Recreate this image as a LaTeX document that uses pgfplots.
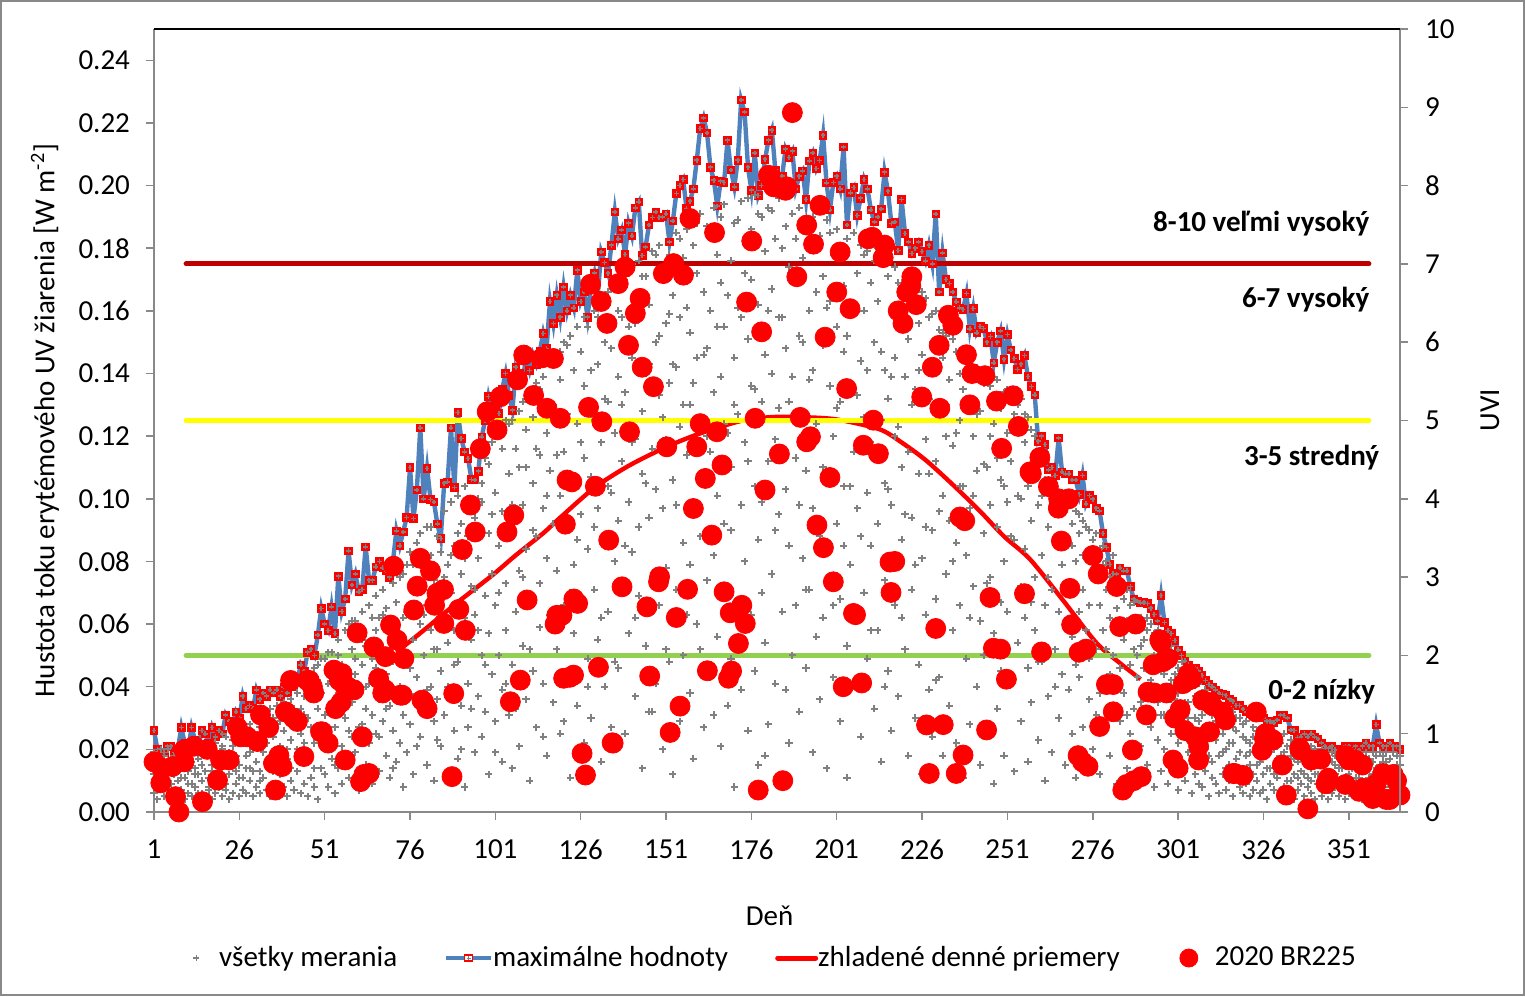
\documentclass[border=0pt]{standalone}
\usepackage{pgfplots}
\usepackage{pgfplotstable}
\pgfplotsset{compat=1.18}
\usepackage{fontspec}
\setmainfont{Carlito}
\definecolor{maxblue}{HTML}{4F81BD}
\definecolor{uvdark}{HTML}{C00000}
\definecolor{uvyellow}{HTML}{FFFF00}
\definecolor{uvgreen}{HTML}{92D050}
\definecolor{framegray}{HTML}{898989}
\definecolor{ptgray}{HTML}{808080}
\newcommand\fs{\fontsize{14.5}{17}\selectfont}
% d = day, g1..g4 = all measurements (four per day), m = daily maximum
\pgfplotstableread{
d g1 g2 g3 g4 m
1 .006 .012 .019 .013 .026
2 .004 .010 .016 .007 .020
3 .008 .014 .017 .020 .017
4 .005 .011 .018 .015 .019
5 .007 .013 .020 .010 .021
6 .004 .009 .015 .017 .021
7 .006 .012 .018 .003 .019
8 .005 .010 .016 .014 .020
9 .007 .015 .021 .011 .027
10 .004 .011 .019 .018 .022
11 .006 .013 .017 .009 .020
12 .005 .009 .020 .016 .027
13 .008 .014 .019 .012 .023
14 .004 .012 .017 .006 .021
15 .006 .010 .021 .015 .026
16 .005 .013 .018 .019 .025
17 .007 .011 .020 .008 .022
18 .004 .015 .019 .013 .027
19 .006 .012 .022 .017 .024
20 .008 .010 .017 .011 .026
21 .005 .014 .021 .020 .025
22 .007 .016 .024 .009 .031
23 .004 .012 .019 .015 .029
24 .006 .017 .023 .021 .028
25 .009 .013 .026 .018 .032
26 .005 .015 .022 .011 .030
27 .007 .011 .027 .022 .037
28 .006 .018 .024 .014 .033
29 .010 .014 .028 .019 .034
30 .005 .020 .025 .013 .033
31 .008 .016 .030 .024 .039
32 .006 .013 .027 .010 .036
33 .011 .019 .031 .021 .038
34 .007 .022 .028 .016 .037
35 .005 .015 .033 .026 .039
36 .009 .024 .030 .013 .038
37 .006 .018 .034 .028 .039
38 .012 .021 .029 .017 .037
39 .008 .026 .035 .031 .040
40 .005 .017 .031 .020 .038
41 .010 .023 .036 .014 .0405
42 .007 .028 .033 .029 .040
43 .013 .020 .038 .017 .042
44 .006 .025 .041 .033 .047
45 .009 .031 .037 .022 .045
46 .005 .018 .044 .030 .051
47 .011 .027 .040 .036 .052
48 .008 .022 .046 .014 .050
49 .004 .033 .042 .047 .0565
50 .014 .026 .049 .038 .065
51 .012 .031 .049 .022 .060
52 .022 .041 .008 .051 .058
53 .051 .017 .035 .043 .0655
54 .006 .044 .027 .015 .057
55 .038 .055 .014 .050 .0753
56 .021 .047 .009 .034 .064
57 .058 .030 .016 .045 .068
58 .011 .042 .060 .026 .0834
59 .035 .024 .052 .061 .0725
60 .019 .061 .044 .049 .076
61 .007 .038 .056 .027 .0703
62 .028 .064 .047 .055 .071
63 .015 .053 .033 .040 .0847
64 .041 .066 .022 .009 .074
65 .009 .049 .031 .062 .074
66 .058 .025 .069 .046 .0783
67 .036 .013 .062 .024 .080
68 .052 .029 .071 .063 .078
69 .018 .044 .065 .033 .077
70 .060 .034 .011 .049 .075
71 .026 .073 .048 .014 .080
72 .039 .016 .067 .058 .0898
73 .075 .054 .022 .040 .085
74 .031 .062 .008 .076 .0894
75 .047 .079 .019 .064 .094
76 .066 .028 .083 .046 .110
77 .012 .055 .037 .079 .0937
78 .071 .043 .086 .021 .1028
79 .024 .060 .089 .074 .1227
80 .050 .035 .078 .063 .100
81 .015 .091 .066 .039 .1097
82 .058 .040 .082 .091 .0998
83 .029 .074 .010 .052 .099
84 .088 .052 .036 .023 .092
85 .045 .069 .021 .083 .0873
86 .096 .031 .061 .075 .105
87 .013 .079 .054 .040 .1054
88 .070 .039 .099 .082 .1227
89 .026 .085 .058 .047 .1036
90 .048 .101 .017 .089 .1275
91 .076 .034 .092 .020 .1193
92 .062 .008 .104 .081 .115
93 .041 .088 .027 .100 .1129
94 .097 .055 .072 .033 .1061
95 .019 .094 .063 .071 .106
96 .081 .037 .100 .058 .1088
97 .050 .099 .024 .105 .1198
98 .113 .069 .032 .047 .125
99 .089 .012 .057 .111 .1326
100 .044 .118 .076 .095 .128
101 .102 .029 .066 .019 .130
102 .085 .050 .121 .070 .1272
103 .016 .096 .039 .116 .135
104 .073 .125 .058 .041 .140
105 .108 .031 .088 .124 .133
106 .047 .125 .014 .098 .1283
107 .093 .064 .116 .033 .142
108 .021 .110 .077 .128 .140
109 .131 .053 .098 .075 .138
110 .036 .084 .122 .110 .145
111 .069 .133 .010 .052 .141
112 .105 .045 .126 .090 .146
113 .088 .027 .137 .116 .143
114 .059 .114 .073 .135 .147
115 .139 .041 .097 .024 .1528
116 .018 .121 .081 .101 .148
117 .109 .063 .144 .130 .163
118 .035 .130 .092 .061 .156
119 .146 .077 .052 .114 .165
120 .101 .025 .138 .147 .158
121 .066 .150 .115 .029 .1676
122 .043 .127 .090 .149 .160
123 .152 .011 .108 .070 .165
124 .079 .141 .057 .104 .161
125 .124 .034 .155 .087 .173
126 .095 .068 .147 .118 .163
127 .022 .136 .113 .158 .166
128 .155 .084 .049 .040 .158
129 .107 .141 .030 .127 .168
130 .071 .160 .125 .091 .172
131 .143 .055 .097 .158 .165
132 .016 .118 .163 .062 .1788
133 .088 .150 .040 .132 .1755
134 .131 .064 .166 .104 .172
135 .102 .027 .148 .167 .181
136 .167 .080 .121 .048 .1916
137 .046 .139 .093 .160 .183
138 .158 .112 .070 .130 .1858
139 .025 .171 .134 .085 .178
140 .099 .057 .155 .172 .188
141 .145 .175 .083 .118 .184
142 .062 .119 .037 .156 .1929
143 .176 .091 .160 .069 .1948
144 .128 .014 .108 .171 .1777
145 .053 .171 .140 .105 .1804
146 .094 .032 .162 .143 .1874
147 .179 .116 .075 .032 .1898
148 .041 .150 .103 .178 .1916
149 .133 .181 .066 .152 .1898
150 .020 .097 .172 .126 .190
151 .156 .078 .119 .052 .191
152 .178 .048 .137 .159 .182
153 .106 .165 .012 .143 .1887
154 .071 .142 .185 .098 .1975
155 .029 .123 .158 .183 .200
156 .177 .086 .050 .130 .2019
157 .114 .186 .063 .161 .1927
158 .038 .153 .130 .079 .195
159 .181 .099 .017 .137 .199
160 .145 .060 .172 .188 .2081
161 .088 .191 .124 .052 .2182
162 .027 .166 .107 .146 .2216
163 .148 .074 .187 .120 .2168
164 .115 .043 .160 .184 .2059
165 .193 .134 .082 .031 .2017
166 .056 .178 .101 .155 .1935
167 .139 .021 .169 .190 .2014
168 .092 .155 .194 .124 .201
169 .034 .121 .072 .165 .2145
170 .176 .110 .049 .090 .205
171 .145 .188 .008 .130 .1996
172 .067 .161 .127 .189 .2081
173 .195 .098 .039 .158 .2273
174 .118 .172 .080 .053 .2235
175 .026 .151 .196 .112 .2059
176 .186 .063 .136 .170 .1985
177 .104 .197 .045 .135 .2104
178 .162 .087 .015 .191 .1969
179 .131 .190 .070 .099 .200
180 .054 .146 .179 .018 .2084
181 .193 .112 .028 .160 .2145
182 .167 .076 .140 .192 .2177
183 .041 .183 .119 .090 .205
184 .129 .095 .196 .158 .200
185 .064 .158 .011 .180 .203
186 .187 .103 .148 .039 .2116
187 .022 .174 .085 .131 .209
188 .139 .050 .191 .171 .211
189 .113 .170 .066 .183 .199
190 .193 .032 .152 .098 .203
191 .081 .125 .177 .150 .2047
192 .046 .186 .109 .071 .1955
193 .160 .071 .138 .188 .2079
194 .019 .190 .097 .141 .2104
195 .124 .166 .056 .090 .2054
196 .184 .088 .036 .153 .208
197 .149 .062 .171 .110 .2161
198 .107 .189 .014 .161 .2009
199 .075 .136 .163 .185 .1923
200 .178 .043 .120 .066 .201
201 .092 .155 .186 .129 .203
202 .029 .131 .068 .178 .199
203 .168 .104 .147 .085 .2123
204 .053 .183 .011 .152 .1874
205 .136 .079 .159 .104 .1977
206 .185 .115 .040 .162 .1994
207 .097 .172 .061 .133 .1905
208 .144 .024 .181 .088 .196
209 .070 .126 .160 .178 .202
210 .179 .049 .102 .141 .199
211 .118 .169 .085 .058 .1923
212 .033 .150 .176 .113 .1884
213 .163 .092 .058 .180 .190
214 .125 .178 .016 .147 .1925
215 .074 .141 .105 .040 .2043
216 .171 .045 .132 .103 .1982
217 .098 .160 .026 .139 .1879
218 .145 .066 .174 .120 .1884
219 .037 .123 .157 .169 .1793
220 .168 .087 .110 .062 .1955
221 .052 .139 .170 .095 .1847
222 .115 .018 .151 .165 .182
223 .162 .094 .071 .130 .1783
224 .030 .135 .168 .079 .180
225 .108 .156 .047 .141 .182
226 .146 .081 .012 .166 .179
227 .063 .164 .119 .091 .176
228 .132 .039 .158 .108 .181
229 .090 .150 .024 .159 .175
230 .160 .112 .068 .042 .1909
231 .043 .127 .154 .096 .166
232 .101 .018 .145 .153 .1785
233 .152 .076 .120 .130 .170
234 .034 .138 .093 .156 .1687
235 .117 .058 .151 .080 .166
236 .147 .086 .022 .121 .1629
237 .066 .125 .140 .104 .161
238 .011 .104 .148 .135 .1605
239 .131 .049 .082 .145 .1655
240 .143 .097 .028 .062 .1543
241 .072 .120 .139 .101 .1607
242 .040 .142 .109 .127 .153
243 .128 .061 .015 .141 .155
244 .089 .137 .050 .111 .1544
245 .110 .026 .141 .073 .150
246 .136 .075 .098 .120 .1518
247 .057 .124 .009 .139 .1434
248 .138 .091 .033 .113 .150
249 .106 .045 .129 .067 .1536
250 .018 .134 .080 .104 .1446
251 .121 .064 .099 .135 .1524
252 .041 .135 .112 .088 .1475
253 .087 .013 .127 .132 .1448
254 .130 .070 .054 .101 .1413
255 .100 .029 .132 .072 .143
256 .062 .118 .084 .127 .1457
257 .126 .046 .016 .104 .1391
258 .093 .122 .035 .067 .1358
259 .058 .111 .075 .120 .1332
260 .113 .023 .098 .048 .1184
261 .082 .048 .113 .101 .120
262 .010 .106 .066 .115 .1173
263 .091 .037 .104 .075 .1092
264 .071 .103 .019 .106 .110
265 .052 .100 .086 .040 .1074
266 .030 .095 .064 .102 .1194
267 .101 .044 .079 .088 .1086
268 .015 .087 .060 .097 .108
269 .098 .039 .072 .060 .108
270 .056 .092 .025 .085 .106
271 .080 .011 .096 .047 .106
272 .043 .089 .064 .095 .1014
273 .093 .027 .071 .082 .1074
274 .058 .082 .016 .091 .0984
275 .036 .090 .049 .066 .101
276 .075 .020 .087 .054 .0999
277 .052 .089 .031 .078 .097
278 .084 .012 .066 .038 .0961
279 .041 .079 .058 .085 .0889
280 .071 .027 .080 .052 .0845
281 .018 .062 .075 .044 .079
282 .050 .072 .034 .082 .0761
283 .065 .009 .072 .040 .076
284 .029 .070 .046 .058 .078
285 .068 .038 .055 .072 .077
286 .014 .061 .071 .031 .077
287 .047 .066 .025 .059 .072
288 .033 .062 .052 .067 .068
289 .060 .011 .043 .050 .0674
290 .021 .053 .062 .035 .0668
291 .046 .030 .061 .055 .067
292 .058 .015 .038 .062 .0666
293 .027 .049 .060 .042 .0651
294 .040 .057 .008 .050 .063
295 .052 .023 .035 .058 .061
296 .013 .045 .056 .031 .0691
297 .031 .054 .020 .044 .0605
298 .048 .009 .039 .052 .058
299 .025 .042 .053 .036 .057
300 .036 .016 .049 .044 .0547
301 .007 .022 .046 .038 .0518
302 .014 .041 .028 .048 .050
303 .010 .035 .045 .024 .0483
304 .019 .030 .042 .035 .047
305 .006 .026 .040 .043 .046
306 .012 .037 .021 .030 .0459
307 .017 .029 .041 .009 .045
308 .008 .024 .038 .031 .0436
309 .013 .033 .020 .039 .042
310 .005 .027 .036 .018 .0407
311 .016 .031 .011 .025 .040
312 .009 .023 .035 .029 .039
313 .018 .029 .006 .033 .038
314 .012 .025 .033 .019 .0375
315 .007 .020 .031 .014 .0372
316 .015 .028 .010 .022 .036
317 .005 .022 .032 .027 .0354
318 .011 .026 .017 .030 .034
319 .008 .030 .019 .013 .034
320 .013 .024 .006 .028 .0329
321 .009 .029 .018 .023 .032
322 .015 .022 .005 .019 .0314
323 .007 .027 .012 .024 .031
324 .010 .019 .026 .015 .031
325 .006 .016 .024 .021 .0308
326 .012 .021 .027 .007 .030
327 .004 .018 .025 .014 .029
328 .009 .014 .023 .019 .029
329 .007 .020 .026 .012 .0285
330 .011 .017 .024 .021 .0294
331 .005 .013 .022 .018 .031
332 .008 .019 .025 .014 .0308
333 .006 .015 .021 .010 .030
334 .010 .018 .023 .015 .0262
335 .004 .012 .020 .017 .026
336 .007 .016 .022 .011 .0238
337 .009 .013 .021 .017 .024
338 .005 .017 .022 .012 .025
339 .008 .011 .019 .015 .024
340 .006 .014 .021 .010 .025
341 .004 .016 .020 .012 .024
342 .009 .012 .018 .015 .0233
343 .005 .015 .020 .010 .022
344 .007 .011 .019 .016 .021
345 .004 .013 .017 .009 .0204
346 .006 .016 .019 .011 .021
347 .008 .012 .018 .015 .020
348 .005 .014 .019 .009 .0198
349 .007 .010 .017 .014 .020
350 .004 .015 .019 .011 .021
351 .006 .012 .018 .016 .021
352 .009 .014 .019 .006 .020
353 .005 .011 .017 .014 .021
354 .007 .016 .019 .011 .0198
355 .004 .013 .018 .016 .021
356 .006 .010 .019 .014 .0221
357 .008 .015 .017 .011 .021
358 .005 .012 .019 .016 .021
359 .007 .014 .018 .011 .0279
360 .004 .011 .019 .015 .022
361 .006 .016 .018 .009 .021
362 .005 .013 .019 .016 .021
363 .008 .010 .017 .013 .022
364 .004 .014 .019 .009 .021
365 .006 .012 .018 .015 .021
366 .007 .015 .018 .011 .020
}\alldata
% 2020 BR225 measurements
\pgfplotstableread{
d v
1 .016
3 .0093
3.3 .014
6.4 .0145
7.3 .0049
8.3 .000
9.8 .0198
9.8 .016
12.7 .021
15.2 .0033
16.6 .020
19.6 .0102
20.5 .0166
23 .0166
25.4 .027
26.4 .024
28.3 .024
31.3 .0225
32.2 .031
34.6 .027
36 .0155
36.6 .007
37.6 .018
38.5 .0145
39.5 .032
41 .042
41.9 .030
43 .0289
44.9 .0177
45.9 .042
46.5 .042
47.4 .040
47.8 .038
49.8 .0256
50.3 .0256
52 .022
53.7 .0453
54.2 .033
55.3 .042
55.8 .035
56.1 .0442
57 .040
57 .0166
57.7 .040
59.6 .039
60.5 .0572
61.5 .0097
62 .024
62.5 .012
64 .0123
65.4 .0527
66.8 .0426
68 .038
68.7 .039
68.8 .0496
70.3 .0597
71.2 .0785
72.2 .0549
73.2 .0373
73.7 .0373
74.2 .049
77.1 .0645
78.1 .0721
79 .081
79.5 .0357
80 .0352
81 .033
82 .077
83.2 .066
83.9 .0698
85.8 .071
85.9 .0602
88.3 .0113
88.8 .0378
90.3 .0647
91.3 .0838
92.2 .058
93.7 .098
95.1 .0894
96.6 .116
98.6 .1278
101.5 .122
102.5 .1326
104.4 .0894
105.4 .0352
106.4 .0948
107.5 .138
108.3 .0421
109.3 .1459
110.3 .0677
112.2 .133
114.7 .145
116.1 .1289
118 .1448
118.5 .060
119 .0628
120 .1257
120.5 .0628
121 .0427
121.5 .0919
122 .106
122.8 .043
123.4 .1054
123.9 .0437
124 .068
125.1 .0666
126.4 .0187
127.4 .0118
128.3 .1292
128.9 .1685
130.3 .104
131.2 .0462
132 .163
132.2 .1246
133.7 .156
134.2 .0868
135.2 .0221
135.5 .022
137 .1687
138.1 .0719
139 .174
140.3 .1214
140 .149
142 .1592
143.4 .164
144 .142
145.4 .0655
146.2 .0434
147.3 .1358
148.8 .0735
149.1 .0751
150.2 .1719
151.2 .1166
152.2 .0254
153.2 .1751
154 .0621
155.1 .0338
156.1 .1714
157.3 .0711
158 .1895
159 .0969
160 .1166
161 .124
162.5 .1065
163.1 .0451
164.4 .0884
165.2 .185
165.9 .1214
167.4 .1108
168 .0703
169.3 .0427
169.8 .0636
170.2 .045
172.2 .0538
173.2 .066
174.2 .0602
174.6 .1628
176.1 .1823
177.1 .1257
178 .007
179 .1533
180 .1028
181 .2033
182.5 .1996
184.2 .1143
185 .199
185.2 .010
186 .1985
186.4 .1996
188 .2233
189.3 .1709
190.3 .126
192.2 .1874
192.2 .1182
193.3 .1198
194.2 .1813
195.2 .0916
196.1 .1937
197.1 .0844
197.6 .1516
199 .1068
200 .0735
201 .166
202 .1788
202.9 .040
203.9 .1352
204.9 .1607
205.9 .0634
206.5 .063
208.3 .0412
208.8 .1171
210.2 .183
211.4 .1835
211.7 .1251
213.2 .1144
214.6 .177
215 .181
216.6 .0798
216.9 .0701
218 .080
219 .160
220.4 .156
221.5 .166
222.7 .168
223 .1709
224.3 .162
225.9 .1325
227.3 .0278
228.1 .0123
229 .142
230 .0586
231 .149
231.2 .1289
232.2 .0279
233.7 .1586
235 .1554
236 .0123
237.1 .0942
238 .0182
238.5 .093
239 .146
240 .130
240.6 .140
244.4 .1393
244.9 .0262
245.9 .0685
246.9 .0523
247.8 .1312
249 .052
249.3 .1161
250.7 .0424
252.7 .1329
254.2 .1231
256 .0697
257.6 .1086
258 .108
260.5 .1132
261 .0511
263 .1039
265.9 .097
266 .100
266.8 .0865
269 .100
269.3 .0714
269.8 .0598
271.7 .018
272 .051
273 .016
274 .052
274.6 .0146
276 .0819
277.6 .076
278 .0273
280 .0407
282 .0407
282 .032
283 .072
283.9 .0592
284.8 .007
285.9 .0088
287.6 .0198
288 .010
288.6 .060
290.2 .0113
291.7 .031
292.2 .0383
293.7 .047
294 .038
295.6 .055
296 .0541
296.6 .048
297.6 .038
298 .049
299.5 .0166
300 .030
301 .014
301.6 .0327
302.5 .041
303 .026
304 .044
304.9 .0424
306 .024
307 .021
307 .0166
308.2 .0357
310.2 .0256
310.4 .0349
311 .034
314.1 .0319
314.9 .0294
317.1 .0123
317.6 .0123
320 .0117
323.9 .0319
325.6 .0197
326.3 .0233
326.6 .025
328 .0235
328.8 .023
331.5 .015
332.7 .0054
336.6 .0203
336.8 .0198
339 .001
340 .0166
342.8 .0169
344.3 .009
345 .0108
350 .0088
350.1 .018
351 .0166
353 .0165
354 .0066
355 .015
355.2 .0076
357.5 .005
358 .0043
359 .009
361 .0123
362 .004
363 .004
364 .012
365 .010
366 .0054
}\brdata
\begin{document}
\begin{tikzpicture}
\useasboundingbox (0,0) rectangle (762.5pt,498pt);
\draw[framegray, line width=1pt] (0.5pt,0.5pt) rectangle (762pt,497.5pt);
\begin{axis}[
  at={(77pt,92pt)}, anchor=south west, scale only axis,
  width=623pt, height=391.5pt,
  xmin=1, xmax=366, ymin=0, ymax=0.25,
  clip=false,
  axis x line=bottom, axis y line=left,
  axis line style={framegray, line width=0.75pt, -},
  xtick={1,26,51,76,101,126,151,176,201,226,251,276,301,326,351},
  ytick={0,0.02,0.04,0.06,0.08,0.1,0.12,0.14,0.16,0.18,0.2,0.22,0.24},
  tick align=outside, major tick length=4pt,
  tick style={framegray, line width=0.75pt},
  /pgf/number format/assume math mode=true,
  yticklabel style={/pgf/number format/.cd, fixed, fixed zerofill, precision=2, /tikz/.cd},
  tick label style={font=\fs},
  xticklabel style={yshift=-6.5pt},
  yticklabel style={xshift=-4.5pt},
  label style={font=\fs},
  xlabel={Deň},
  xlabel style={at={(axis description cs:0.494,-0.1328)}, anchor=center},
  ylabel={Hustota toku erytémového UV žiarenia [W m\textsuperscript{-2}]},
  ylabel style={at={(axis description cs:-0.0875,0.5)}, anchor=center},
  legend style={at={(axis description cs:0.4972,-0.1865)}, anchor=center, draw=none, fill=none,
    font=\fs, legend columns=4, inner sep=0pt,
    nodes={inner xsep=0pt, inner ysep=1pt},
    /tikz/every even column/.append style={column sep=23.5pt}},
]
% daily maxima
\addplot[forget plot, maxblue, line width=2.2pt, mark=square*, mark size=1.9pt,
  mark options={draw=red, fill=red, line width=0.4pt}] table[x=d, y=m] {\alldata};
% all measurements
\addplot[forget plot, only marks, mark=+, mark size=1.8pt, ptgray, mark options={line width=1pt}] table[x=d, y=g1] {\alldata};
\addplot[forget plot, only marks, mark=+, mark size=1.8pt, ptgray, mark options={line width=1pt}] table[x=d, y=g2] {\alldata};
\addplot[forget plot, only marks, mark=+, mark size=1.8pt, ptgray, mark options={line width=1pt}] table[x=d, y=g3] {\alldata};
\addplot[forget plot, only marks, mark=+, mark size=1.8pt, ptgray, mark options={line width=1pt}] table[x=d, y=g4] {\alldata};
\addplot[forget plot, only marks, mark=+, mark size=1.2pt, ptgray, mark options={line width=0.8pt}] table[x=d, y=m] {\alldata};
% smoothed daily means
\addplot[forget plot, red, line width=2.2pt, smooth] coordinates {
(72,.051)(80,.058)(90,.067)(100,.0755)(107,.082)(115,.089)(120,.094)(130,.1035)(140,.1105)
(151,.1165)(160,.1205)(170,.124)(176,.1255)(185,.1262)(198,.1257)(205,.1245)(214,.122)
(220,.118)(227,.1124)(235,.1045)(243,.096)(250,.088)(257.6,.0807)(267,.068)(277,.0541)
(284,.0475)(290,.0424)};
% 2020 BR225
\addplot[forget plot, only marks, mark=*, mark size=5pt, mark options={draw=red, fill=red}] table[x=d, y=v] {\brdata};
% UV index thresholds
\addplot[forget plot, uvdark, line width=2.5pt, line cap=round] coordinates {(10.4,0.175)(356.9,0.175)};
\addplot[forget plot, uvyellow, line width=2.5pt, line cap=round] coordinates {(10.4,0.125)(356.9,0.125)};
\addplot[forget plot, uvgreen, line width=2.5pt, line cap=round] coordinates {(10.4,0.05)(356.9,0.05)};
\node[anchor=east, inner xsep=0pt, font=\fs\bfseries] at (axis cs:357.1,0.1880) {8-10 veľmi vysoký};
\node[anchor=east, inner xsep=0pt, font=\fs\bfseries] at (axis cs:357.1,0.1637) {6-7 vysoký};
\node[anchor=east, inner xsep=0pt, font=\fs\bfseries] at (axis cs:360.0,0.1130) {3-5 stredný};
\node[anchor=east, inner xsep=0pt, font=\fs\bfseries] at (axis cs:358.8,0.0384) {0-2 nízky};
% legend
\addlegendimage{legend image code/.code={
  \draw[ptgray, line width=0.6pt] (1pt,0)--(4pt,0) (2.5pt,-1.5pt)--(2.5pt,1.5pt);
  \path[draw=none, fill=none] (0,-3pt) rectangle (14pt,3pt);}}
\addlegendentry{všetky merania}
\addlegendimage{legend image code/.code={
  \draw[maxblue, line width=2pt] (0,0)--(22.5pt,0);
  \draw[red, fill=white, line width=0.6pt] (9.25pt,-1.5pt) rectangle (13.25pt,1.5pt);
  \draw[ptgray, line width=0.5pt] (10.25pt,0)--(12.25pt,0) (11.25pt,-1pt)--(11.25pt,1pt);}}
\addlegendentry{maximálne hodnoty}
\addlegendimage{legend image code/.code={
  \draw[red, line width=2.5pt, line cap=round] (1.25pt,0)--(20.25pt,0);
  \path[draw=none, fill=none] (0,0)--(21.5pt,0);}}
\addlegendentry{zhladené denné priemery}
\addlegendimage{legend image code/.code={
  \fill[red] (11pt,0) circle (4.5pt);
  \path[draw=none, fill=none] (0,0)--(24pt,0);}}
\addlegendentry{2020 BR225}
\end{axis}
\begin{axis}[
  at={(77pt,92pt)}, anchor=south west, scale only axis,
  width=623pt, height=391.5pt,
  xmin=1, xmax=366, ymin=0, ymax=10, clip=false,
  axis y line=right, axis x line=none, xtick=\empty,
  axis line style={framegray, line width=0.75pt, -},
  ytick={0,1,2,3,4,5,6,7,8,9,10}, tick align=outside, major tick length=4pt,
  tick style={framegray, line width=0.75pt},
  /pgf/number format/assume math mode=true,
  tick label style={font=\fs}, yticklabel style={xshift=5pt},
  label style={font=\fs},
  ylabel={UVI}, ylabel style={at={(axis description cs:1.0722,0.513)}, anchor=center},
]
\draw[black, line width=1pt] (rel axis cs:0,1) -- (rel axis cs:1,1);
\end{axis}
\end{tikzpicture}
\end{document}
